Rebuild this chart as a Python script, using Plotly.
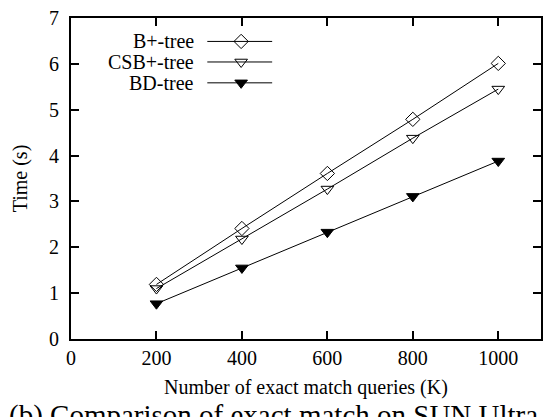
import plotly.graph_objects as go

# Query counts (thousands) and measured times (seconds)
queries = [200, 400, 600, 800, 1000]
bplus_tree = [1.19, 2.41, 3.61, 4.79, 6.01]
csbplus_tree = [1.10, 2.18, 3.27, 4.38, 5.45]
bd_tree = [0.77, 1.55, 2.33, 3.11, 3.88]

series_names = ["B+-tree", "CSB+-tree", "BD-tree"]
series_values = [bplus_tree, csbplus_tree, bd_tree]
symbols = ["diamond-open", "triangle-down-open", "triangle-down"]

x_ticks = [0, 200, 400, 600, 800, 1000]
y_ticks = [0, 1, 2, 3, 4, 5, 6, 7]

FONT = "Liberation Serif"

fig = go.Figure()

for name, vals, sym in zip(series_names, series_values, symbols):
    fig.add_trace(go.Scatter(
        x=queries, y=vals, name=name, mode="lines+markers",
        line=dict(color="black", width=1),
        marker=dict(symbol=sym, size=11, color="black",
                    line=dict(color="black", width=1)),
        showlegend=False,
    ))

# Key drawn inside the plot: right-aligned label, sample line, marker
key_rows = [0.927, 0.863, 0.798]
key_x0, key_x1, key_mid, key_text = 0.290, 0.428, 0.362, 0.267
for name, sym, yr in zip(series_names, symbols, key_rows):
    fig.add_trace(go.Scatter(
        x=[key_x0, key_mid, key_x1], y=[yr, yr, yr],
        mode="lines", line=dict(color="black", width=1),
        xaxis="x2", yaxis="y2", showlegend=False, hoverinfo="skip",
    ))
    fig.add_trace(go.Scatter(
        x=[key_mid], y=[yr], mode="markers",
        marker=dict(symbol=sym, size=11, color="black",
                    line=dict(color="black", width=1)),
        xaxis="x2", yaxis="y2", showlegend=False, hoverinfo="skip",
    ))
    fig.add_annotation(
        x=key_text, y=yr, xref="x2", yref="y2", text=name,
        showarrow=False, xanchor="right", yanchor="middle",
        font=dict(family=FONT, size=20, color="black"),
    )

axis_common = dict(
    showline=True, linecolor="black", linewidth=2, mirror="allticks",
    ticks="inside", ticklen=8, tickwidth=1.5, tickcolor="black",
    showgrid=False, zeroline=False,
    tickfont=dict(family=FONT, size=20, color="black"),
)

fig.update_layout(
    width=549, height=417,
    margin=dict(l=71, r=6, t=18, b=78),
    paper_bgcolor="white", plot_bgcolor="white",
    font=dict(family=FONT, color="black"),
    xaxis=dict(range=[0, 1100], tickvals=x_ticks, **axis_common,
               title=dict(text="Number of exact match queries (K)",
                          font=dict(family=FONT, size=20, color="black"),
                          standoff=12)),
    yaxis=dict(range=[0, 7], tickvals=y_ticks, **axis_common,
               ticklabelstandoff=6,
               title=dict(text="Time (s)",
                          font=dict(family=FONT, size=20, color="black"),
                          standoff=16)),
    xaxis2=dict(range=[0, 1], overlaying="x", visible=False),
    yaxis2=dict(range=[0, 1], overlaying="y", visible=False),
)

# Figure caption, centred on the page below the axis title
fig.add_annotation(
    x=0.5, y=-0.18, xref="paper", yref="paper", yanchor="top",
    text="(b) Comparison of exact match on SUN Ultra", showarrow=False,
    font=dict(family=FONT, size=29, color="black"),
)
fig.update_annotations(selector=dict(text="(b) Comparison of exact match on SUN Ultra"),
                       x=0.431)

fig.write_html("out.html")
